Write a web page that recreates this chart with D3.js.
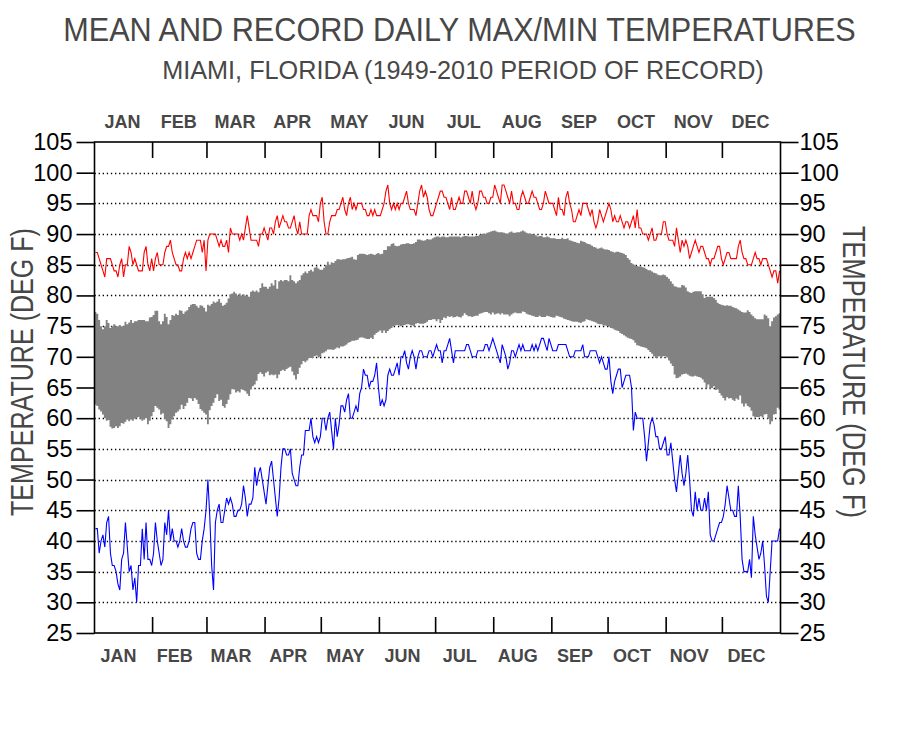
<!DOCTYPE html>
<html>
<head>
<meta charset="utf-8">
<script src="https://cdn.jsdelivr.net/npm/d3@7"></script>
<style>
  html, body { margin: 0; padding: 0; background: #ffffff; }
  svg { display: block; }
  text { font-family: "Liberation Sans", Arial, sans-serif; }
</style>
</head>
<body>
<svg id="chart" width="912" height="736"></svg>
<script>
// ---------------- DATA ----------------
const titleText = "MEAN AND RECORD DAILY MAX/MIN TEMPERATURES";
const subtitleText = "MIAMI, FLORIDA (1949-2010 PERIOD OF RECORD)";
const axisTitle = "TEMPERATURE (DEG F)";
const months = ["JAN","FEB","MAR","APR","MAY","JUN","JUL","AUG","SEP","OCT","NOV","DEC"];
const monthDays = [31,29,31,30,31,30,31,31,30,31,30,31];
const yTicks = [25,30,35,40,45,50,55,60,65,70,75,80,85,90,95,100,105];

// record daily max (deg F), day 1..366
const recordHigh = [
87,87,86,85,84,83,86,86,86,85, 84,84,83,85,86,83,85,85,88,87,
85,86,85,84,84,84,87,88,85,84, 86,84,86,87,85,85,85,87,88,88,
89,87,86,85,85,84,84,86,87,86, 87,86,87,88,89,89,89,87,89,84,
89,90,90,90,90,89,88,89,88,88, 89,87,91,90,90,90,90,89,90,89,
91,93,91,89,89,89,89,88,90,90, 91,90,89,91,91,90,92,93,91,92,
93,92,92,91,91,92,93,91,90,92, 90,90,90,90,93,94,93,93,93,92,
95,96,92,90,90,92,93,93,93,94, 94,95,96,94,93,95,96,94,95,94,
95,95,95,94,94,93,93,94,93,94, 93,93,93,94,95,97,98,95,94,95,
94,95,94,95,95,96,97,95,94,94, 94,93,95,97,98,96,97,96,94,93,
93,94,95,96,97,97,96,96,95,94, 96,94,94,95,96,95,95,97,97,96,
95,97,95,94,95,97,97,96,96,95, 95,96,96,98,97,96,95,98,98,97,
96,95,97,95,95,94,94,96,97,96, 95,95,96,97,96,96,95,94,94,95,
97,96,95,95,95,94,93,96,94,94, 93,96,97,95,94,92,92,93,94,93,
95,95,95,94,93,94,92,91,92,94, 93,92,93,94,95,94,92,93,92,92,
93,92,91,92,92,91,92,93,91,94, 91,91,90,90,90,89,90,91,89,89,
90,90,90,92,92,90,89,89,89,88, 91,89,87,89,88,89,88,86,87,88,
89,88,87,88,88,87,86,86,85,86, 86,87,88,88,86,85,86,87,87,86,
86,86,86,88,89,87,86,86,85,85, 85,86,87,86,86,85,86,86,86,85,
84,83,84,84,82,84
];

// mean daily max (deg F)
const meanHigh = [
77.3,77,76,75,74.5,75,76,75.5,74.7,75, 75.3,75,75,75.2,75,75,75.7,75.3,75.6,76,
75.5,75.8,75.8,76,76,76,76,75.8,75.8,76.4, 76.5,76.8,77.5,77.5,75.8,75.3,75.8,77,76.5,75.3,
76,76.8,76.7,77,76.8,77.6,77.5,77,77.4,77.6, 78.1,78.5,78.6,78.6,78.3,78,78.4,78.3,78,77.4,
78.5,78.3,78.6,79,78.8,79,79.4,78.8,78.3,78.5, 78.8,79.5,80.2,80.3,80.6,80.3,80,80.3,80,80.2,
80,80,79.8,80.6,80.8,80.6,80.8,80.5,81.2,82, 81.4,81.4,81.1,81.4,82,81.6,82.5,81.1,82.3,82.5,
82.3,82.5,82.5,82.3,83.3,82.5,82.3,82,82.3,82.5, 83.3,83.6,83.9,83.6,84,84.2,83.9,84.5,84.7,84.4,
84.2,84.2,84.5,84.9,85.5,85,85.4,85.3,85.6,85.9, 85.9,85.8,85.9,85.9,86,86.1,86.2,86.3,85.9,85.8,
86.6,86.8,86.8,86.8,86.7,86.6,86.7,86.8,86.7,86.6, 86.8,86.9,86.7,86.8,87.4,87.4,88,88,88.4,88.5,
88.1,88,88.1,88.3,88.4,88.4,88.5,88.5,88.4,88.4, 88.5,88.7,89.1,89.1,89,88.9,89,89.2,89.1,89.1,
89.3,89.5,89.6,89.6,89.5,89.6,89.6,89.5,89.5,89.6, 89.6,89.6,89.6,89.6,89.6,89.5,89.6,89.7,89.7,89.6,
89.6,89.6,89.6,89.7,89.7,89.9,90,90.1,90,90.2, 90.3,90.4,90.5,90.6,90.4,90.3,90.3,90.3,90.2,90.1,
90.1,90.3,90.4,90.2,90.2,90.3,90.3,90.4,90.6,90.4, 90.2,90.1,90.1,90,89.9,89.8,89.6,89.7,89.7,89.5,
89.5,89.6,89.5,89.3,89.3,89.3,89.2,89.2,89.2,89.4, 89.2,89.2,89.3,89,88.9,88.8,88.7,88.6,88.5,88.9,
88.8,88.7,88.5,88.4,88.3,88.1,87.9,87.8,87.6,87.7, 87.8,87.6,87.5,87.5,87.4,87.2,87.1,87,87.1,87.1,
87,86.9,86.8,86.6,86.1,85.8,85.3,85.1,84.9,84.8, 84.7,84.7,84.6,84.5,84.3,84.1,84.1,83.9,83.7,83.6,
83.4,83.3,83.3,83.4,83.3,83,82.7,82.3,81.9,81.5, 81.4,81.3,81.3,81.7,81.6,81.3,80.7,80.5,80.4,80.6,
80.7,80.7,80.7,80.7,80.2,79.6,79.8,79.8,79.8,79.8, 79.6,79.3,78.8,78.6,78.5,78.4,78.3,78.4,78.3,78.3,
78.1,78,77.9,77.7,77.5,77.3,77.2,77.2,77.6,77.3, 76.9,76.6,76.3,76.1,76.1,76.1,76.1,76.9,76.7,76.3,
75,75.8,76.4,76.6,76.9,77.1
];

// mean daily min (deg F)
const meanLow = [
62.2,62,61.4,61.1,60.6,60,59.6,59.7,58.6,58.3, 58.4,58.7,58.4,58.7,59.2,59.1,59.4,59.8,59.5,59.8,
59.6,59.9,60,60.2,59.9,59.6,59.8,60,59,59.6, 60.3,61,62,61.7,61.4,60.6,60.8,59.9,59.5,58.4,
59,59.8,60.3,60.9,61.1,61.4,62.2,61.5,62,62.5, 63.3,63.2,62.8,63.3,63,62.3,61.5,61.2,60.9,60.6,
59,61.3,62,62.5,63.3,63.9,62.8,63,62,61.7, 62.3,63,63.9,64.7,64.7,64.2,64.4,64.2,64.7,64.6,
64.4,64,63.6,64.7,65.2,65.5,66.1,67.2,67.5,67.2, 66.8,67.4,67.6,67,67.1,67,67.1,66.5,67.1,67.7,
67.9,67.7,68,68.2,68.4,67.6,67,66.3,67.2,68.2, 68.8,69.3,69.1,69.4,69.8,69.8,69.8,70.1,70.2,69.9,
70,70.6,70.7,70.9,71.2,71.2,71.2,71.1,71.3,71.5, 71.4,71.7,71.7,71.8,72,72.3,72.4,72.6,72.6,72.7,
72.8,73.1,73.2,73.1,73,72.9,72.9,73.1,72.9,73.6, 73.9,74.1,74.3,73.9,74.3,73.9,74.2,74.5,74.7,75,
75.1,75.2,75.1,75,75.1,75.2,75.3,75.3,75.2,75.1, 75,75.4,75.5,75.4,75.4,75.4,75.5,75.7,76,76,
76.1,76.1,75.8,76.1,75.5,76,76.4,76.3,76.6,76.5, 76.6,76.4,76.5,76.6,76.5,76.4,76.7,77.1,76.8,76.6,
76.6,76.5,76.6,76.7,76.7,77,77.1,77.2,77.3,77.3, 77.1,76.9,77.2,76.9,77,77.1,76.9,77.1,76.9,76.9,
76.9,76.6,76.9,77.1,77.2,77.1,77.1,77.1,77.4,77.3, 77,76.9,76.8,76.7,76.6,76.5,76.5,76.7,76.5,76.5,
76.5,76.7,76.6,76.5,76.4,76.4,76.7,76.6,76.5,76.4, 76.2,76.1,76,75.9,75.8,75.7,75.7,75.7,75.6,75.5,
75.7,75.8,76.1,76,75.9,75.8,75.7,75.6,75.4,75.3, 75.3,75.1,75.1,75,74.9,74.7,74.6,74.4,74.3,74.2,
73.9,73.7,73.5,73.3,73.1,73,72.9,72.7,72.3,71.9, 71.8,71.7,71.6,71.5,71.4,71.1,70.8,70.5,70.1,69.8,
70,70.1,69.9,70.1,70.1,69.9,69.4,68.9,68.5,67.1, 66.5,66.6,66.8,67.1,67.2,67.3,67.1,66.9,66.8,66.8,
66.9,66.8,66.7,66.6,66.3,65.8,64.9,65.5,64.8,64.9, 65.2,64.6,64.7,64.1,63.7,63.3,62.9,63.4,63.2,63.3,
63,62.8,63.2,63,63.7,62.4,61.9,62.4,62,61.8, 61.2,60.3,60.1,60.2,60.2,60.3,60.1,60.6,60.7,59.9,
59,59.5,60.6,60.7,61.7,61.4
];

// record daily min (deg F)
const recordLow = [
42,42,38,40,41,39,43,44,38,36, 36,35,33,32,37,38,43,39,35,36,
32,34,30,36,36,42,37,43,37,37, 36,38,43,40,38,36,37,43,41,45,
40,42,40,40,39,40,42,40,39,39, 40,42,43,43,38,37,37,40,42,45,
50,44,36,32,43,45,46,43,43,45, 47,46,47,46,44,44,45,45,46,49,
47,44,46,46,47,52,49,51,52,50, 48,46,49,52,53,50,47,44,47,52,
55,55,54,54,55,51,50,49,49,52, 54,54,58,58,58,60,57,56,57,56,
57,60,60,58,60,61,58,55,60,57, 59,62,62,61,63,64,60,60,61,62,
61,64,65,68,67,67,65,66,66,67, 69,65,62,63,62,63,67,68,67,67,
68,69,67,70,70,71,69,68,70,71, 70,68,70,71,71,70,70,70,71,71,
70,71,72,71,71,69,71,71,72,73, 71,69,71,71,71,71,71,71,72,72,
71,70,70,70,71,71,71,71,72,72, 71,72,73,72,71,70,69,72,71,70,
68,69,71,71,70,71,72,71,72,71, 71,71,71,72,71,72,71,72,73,73,
72,71,73,72,71,71,71,72,72,72, 72,72,71,70,70,70,71,71,71,71,
72,70,70,70,71,71,71,71,70,69, 70,69,68,68,70,66,64,66,67,68,
68,65,66,67,67,67,65,58,61,60, 60,60,60,57,53,56,59,60,59,57,
57,55,55,56,57,54,54,56,53,50, 48,51,54,51,49,51,54,50,45,44,
48,45,47,45,45,47,45,48,41,40, 40,41,42,43,43,44,46,49,47,45,
45,44,44,49,44,37,35,35,35,37, 34,44,41,39,37,38,40,36,31,30,
35,40,40,40,40,42
];

// ---------------- CHART ----------------
const W = 912, H = 736;
const plot = {left: 94.5, right: 780.5, top: 142, bottom: 633};
const nDays = d3.sum(monthDays);

const svg = d3.select("#chart");
svg.append("rect").attr("width", W).attr("height", H).attr("fill", "#ffffff");

const x = d3.scaleLinear().domain([0, nDays]).range([plot.left, plot.right]);
const y = d3.scaleLinear().domain([25, 105]).range([plot.bottom, plot.top]);

const textGray = "#474747";

// Text squeezed horizontally to a target width (condensed look of the original)
function fittedText(parent, str, cx, cy, size, width, rotate) {
  const gg = parent.append("g");
  const t = gg.append("text")
    .attr("text-anchor", "middle")
    .attr("font-size", size).attr("fill", textGray)
    .text(str);
  const natural = t.node().getComputedTextLength();
  const s = Math.min(1, width / natural);
  gg.attr("transform", `translate(${cx},${cy}) rotate(${rotate}) scale(${s},1)`);
  return gg;
}

// Titles
fittedText(svg, titleText, 459.5, 41, 33, 793, 0);
fittedText(svg, subtitleText, 463, 79, 26, 602, 0);

// clip
svg.append("defs").append("clipPath").attr("id", "plotClip")
  .append("rect")
  .attr("x", plot.left).attr("y", plot.top)
  .attr("width", plot.right - plot.left).attr("height", plot.bottom - plot.top);

// Gridlines
const grid = svg.append("g");
grid.selectAll("line")
  .data(yTicks.filter(t => t > 25 && t < 105))
  .join("line")
  .attr("x1", plot.left).attr("x2", plot.right)
  .attr("y1", d => Math.round(y(d)) + 0.5).attr("y2", d => Math.round(y(d)) + 0.5)
  .attr("stroke", "#000").attr("stroke-width", 1.3)
  .attr("stroke-dasharray", "1.3,2.8");

// Band (mean max / mean min) drawn day by day as steps
const bandData = meanHigh.map((h, i) => ({i, h, l: meanLow[i]}));
bandData.push({i: nDays, h: meanHigh[meanHigh.length - 1], l: meanLow[meanLow.length - 1]});
const area = d3.area()
  .x(d => x(d.i))
  .y0(d => y(d.l))
  .y1(d => y(d.h))
  .curve(d3.curveStepAfter);
const g = svg.append("g").attr("clip-path", "url(#plotClip)");
g.append("path").datum(bandData)
  .attr("d", area)
  .attr("fill", "#828282").attr("stroke", "none");

// Record lines
const line = d3.line()
  .x((d, i) => x(i + 0.5))
  .y(d => y(d));
g.append("path").datum(recordHigh)
  .attr("d", line).attr("fill", "none")
  .attr("stroke", "#ff0000").attr("stroke-width", 1.1);
g.append("path").datum(recordLow)
  .attr("d", line).attr("fill", "none")
  .attr("stroke", "#0000ff").attr("stroke-width", 1.1);

// Frame
svg.append("rect")
  .attr("x", plot.left).attr("y", plot.top)
  .attr("width", plot.right - plot.left).attr("height", plot.bottom - plot.top)
  .attr("fill", "none").attr("stroke", "#000").attr("stroke-width", 1.6);

// Month boundary ticks (inside, top and bottom)
const bounds = [];
let acc = 0;
monthDays.forEach((d) => { bounds.push(acc); acc += d; });
const mids = monthDays.map((d, i) => bounds[i] + d / 2);
const mt = svg.append("g");
bounds.slice(1).forEach(b => {
  mt.append("line").attr("x1", x(b)).attr("x2", x(b))
    .attr("y1", plot.top).attr("y2", plot.top + 16)
    .attr("stroke", "#000").attr("stroke-width", 1.6);
  mt.append("line").attr("x1", x(b)).attr("x2", x(b))
    .attr("y1", plot.bottom).attr("y2", plot.bottom - 16)
    .attr("stroke", "#000").attr("stroke-width", 1.6);
});

// Month labels
svg.append("g").selectAll("text").data(months).join("text")
  .attr("x", (d, i) => x(mids[i]) - 1)
  .attr("y", 128)
  .attr("text-anchor", "middle")
  .attr("font-size", 18).attr("font-weight", "bold").attr("fill", textGray)
  .text(d => d);
svg.append("g").selectAll("text").data(months).join("text")
  .attr("x", (d, i) => x(mids[i]) - 5)
  .attr("y", 662)
  .attr("text-anchor", "middle")
  .attr("font-size", 18).attr("font-weight", "bold").attr("fill", textGray)
  .text(d => d);

// Y axes
const leftAxis = d3.axisLeft(y).tickValues(yTicks).tickSize(18).tickPadding(4);
const rightAxis = d3.axisRight(y).tickValues(yTicks).tickSize(18).tickPadding(1);
const la = svg.append("g").attr("transform", `translate(${plot.left},0)`).call(leftAxis);
const ra = svg.append("g").attr("transform", `translate(${plot.right},0)`).call(rightAxis);
[la, ra].forEach(a => {
  a.select(".domain").remove();
  a.selectAll(".tick line").attr("stroke", "#000").attr("stroke-width", 1.6);
  a.selectAll(".tick text")
    .attr("font-family", "'Liberation Sans', Arial, sans-serif")
    .attr("font-size", 23.5).attr("fill", "#000");
});

// Axis titles
fittedText(svg, axisTitle, 33, 372, 31, 288, -90);
fittedText(svg, axisTitle, 843, 372, 31, 292, 90);
</script>
</body>
</html>
